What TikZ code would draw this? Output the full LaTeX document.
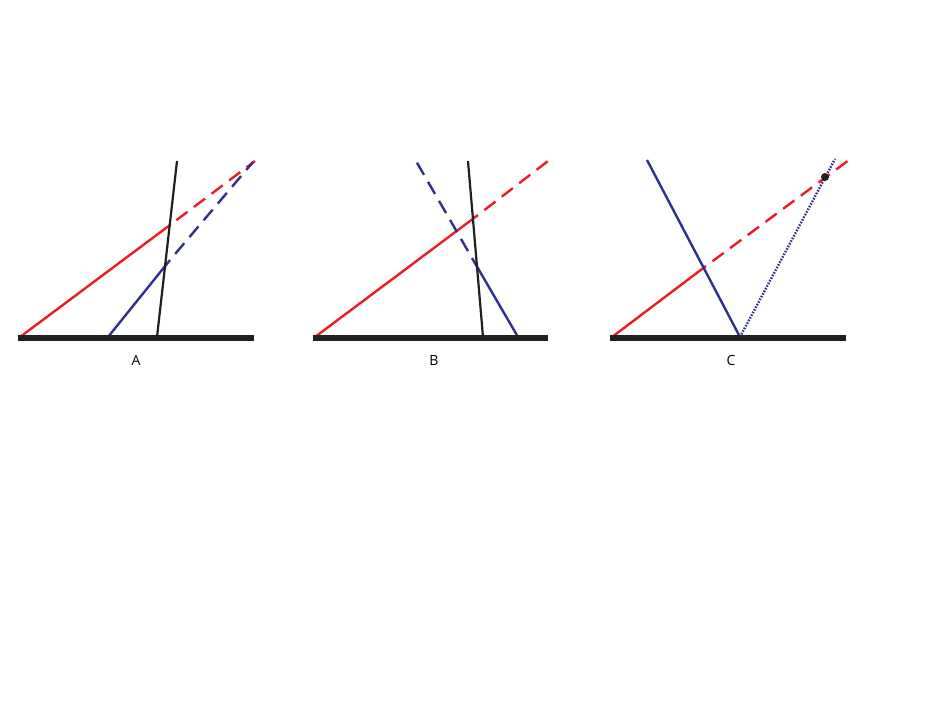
\documentclass[tikz,border=0pt]{standalone}
\usepackage{fontspec}
\setsansfont{Open Sans}
\usetikzlibrary{positioning}
\definecolor{rayred}{HTML}{ED1C24}
\definecolor{rayblue}{HTML}{2E3192}
\definecolor{rayblack}{HTML}{231F20}

\begin{document}
\begin{tikzpicture}
[x=1pt,y=-1pt, ground/.style={draw=rayblack,line width=5.5pt},
  red ray/.style={draw=rayred,line width=2.4pt},
  blue ray/.style={draw=rayblue,line width=2.4pt},
  black ray/.style={draw=rayblack,line width=2.2pt},
  dash ray/.style={dash pattern=on 14pt off 8pt,dash phase=14pt},
  dot ray/.style={dash pattern=on 1.6pt off 1.4pt},
  panel label/.style={inner sep=0pt,font=\sffamily\fontsize{14}{16}\selectfont}]

    \useasboundingbox (0,0) rectangle (926,716);

    % panel A
    \coordinate (a0) at (18,338);
    \coordinate (a1) at (254,338);
    \coordinate (ar0) at (20,337);
    \coordinate (ar1) at (170,225);
    \coordinate (ar2) at (255,161);
    \coordinate (ab0) at (108,337);
    \coordinate (ab1) at (170,260);
    \coordinate (ab2) at (253,162);
    \coordinate (ak0) at (157,337);
    \coordinate (ak1) at (177,161);
    \draw[red ray] (ar0) -- (ar1);
    \draw[red ray,dash ray] (ar1) -- (ar2);
    \draw[blue ray] (ab0) -- (ab1);
    \draw[blue ray,dash ray] (ab1) -- (ab2);
    \draw[black ray] (ak0) -- (ak1);
    \draw[ground] (a0) -- (a1);
    \node [panel label] (la) at (136,360) {A};

    % panel B
    \coordinate (b0) at (313,338);
    \coordinate (b1) at (548,338);
    \coordinate (br0) at (315,337);
    \coordinate (br1) at (478,215);
    \coordinate (br2) at (548,161);
    \coordinate (bb0) at (518,337);
    \coordinate (bb1) at (472,258);
    \coordinate (bb2) at (416,161);
    \coordinate (bk0) at (483,337);
    \coordinate (bk1) at (468,161);
    \draw[red ray] (br0) -- (br1);
    \draw[red ray,dash ray] (br1) -- (br2);
    \draw[blue ray] (bb0) -- (bb1);
    \draw[blue ray,dash ray] (bb1) -- (bb2);
    \draw[black ray] (bk0) -- (bk1);
    \draw[ground] (b0) -- (b1);
    \node [panel label] (lb) at (434,360) {B};

    % panel C
    \coordinate (c0) at (610,338);
    \coordinate (c1) at (846,338);
    \coordinate (cr0) at (612,337);
    \coordinate (cr1) at (706,266);
    \coordinate (cr2) at (853,157);
    \coordinate (cb0) at (647,160);
    \coordinate (cb1) at (740,337);
    \coordinate (cb2) at (835,159);
    \draw[red ray] (cr0) -- (cr1);
    \draw[red ray,dash ray] (cr1) -- (cr2);
    \draw[blue ray] (cb0) -- (cb1);
    \draw[blue ray,dot ray] (cb1) -- (cb2);
    \draw[ground] (c0) -- (c1);
    \fill[rayblack] (825,177) circle (4);
    \node [panel label] (lc) at (731,360) {C};
\end{tikzpicture}
\end{document}
